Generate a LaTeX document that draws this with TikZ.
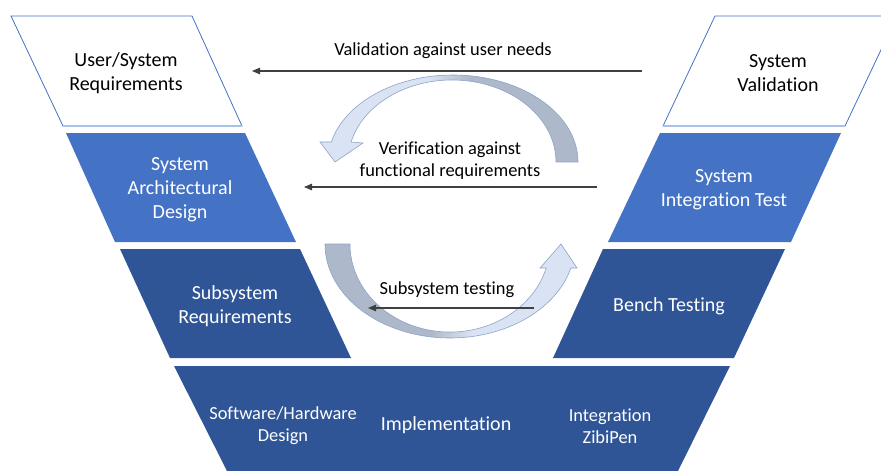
\documentclass[tikz,border=0pt]{standalone}
\usepackage{fontspec}
\setmainfont{Carlito}[Ligatures={NoCommon}]
\usetikzlibrary{arrows.meta}

\definecolor{vblue}{HTML}{4472C4}
\definecolor{vdark}{HTML}{2F5597}
\definecolor{vlight}{HTML}{DAE3F3}
\definecolor{vgray}{HTML}{ADB9CA}
\definecolor{vline}{HTML}{404040}
\definecolor{vedge}{HTML}{8EA4C8}
\definecolor{vrim}{HTML}{A9C0E8}

% light-to-gray and gray-to-light fills for the two loop arrows
\pgfdeclarehorizontalshading{loopLG}{100bp}{color(0bp)=(vlight); color(46bp)=(vlight); color(54bp)=(vgray); color(100bp)=(vgray)}
\pgfdeclarehorizontalshading{loopGL}{100bp}{color(0bp)=(vgray); color(46bp)=(vgray); color(54bp)=(vlight); color(100bp)=(vlight)}

\tikzset{
  whitebox/.style={fill=white, draw=vblue, line width=0.8pt},
  midbox/.style={fill=vblue},
  darkbox/.style={fill=vdark},
  boxtext/.style={align=center, font=\fontsize{20}{24}\selectfont, inner sep=0pt},
  smallbox/.style={font=\fontsize{18.4}{22}\selectfont},
  lighttext/.style={boxtext, text=white},
  darktext/.style={boxtext, text=black},
  flowtext/.style={align=center, font=\fontsize{18.4}{22}\selectfont, inner sep=0pt, text=black},
  flowarrow/.style={draw=vline, line width=1.1pt, -{Triangle[length=8pt,width=6.5pt]}},
  looparrow/.style={draw=vedge, line width=0.6pt}
}

\begin{document}
\begin{tikzpicture}[x=1pt,y=-1pt]
\useasboundingbox (0,0) rectangle (881,471);
\clip (0,0) rectangle (881,471);

% left branch of the V
\path[whitebox] (11,16) -- (192,16) -- (242,126) -- (63,126) -- cycle;
\draw[vrim, line width=1.6pt] (63,126) -- (242,126);
\path[midbox]  (66,133) -- (245,133) -- (296,242) -- (115,242) -- cycle;
\path[darkbox] (120,249) -- (300,249) -- (351,358) -- (170,358) -- cycle;

% right branch of the V
\path[whitebox] (715,16) -- (897,16) -- (845,126) -- (663,126) -- cycle;
\draw[vrim, line width=1.6pt] (663,126) -- (845,126);
\path[midbox]  (660,133) -- (841,133) -- (791,242) -- (608,242) -- cycle;
\path[darkbox] (603,249) -- (785,249) -- (734,358) -- (553,358) -- cycle;

% base of the V
\path[darkbox] (174,366) -- (730,366) -- (678,471) -- (227,471) -- cycle;

% stage labels
\node[darktext]  (usr)   at (126,73.5)  {User/System\\Requirements};
\node[lighttext] (sad)   at (180,189.5) {System\\Architectural\\Design};
\node[lighttext] (ssr)   at (235,306.5) {Subsystem\\Requirements};
\node[lighttext, smallbox] (swd)   at (283,426) {Software/Hardware\\Design};
\node[lighttext] (impl)  at (446,425.5) {Implementation};
\node[lighttext, smallbox] (integ) at (610,426) {Integration\\ZibiPen};
\node[lighttext] (bench) at (669,306.5) {Bench Testing};
\node[lighttext] (sit)   at (724,189.5) {System\\Integration Test};
\node[darktext]  (sval)  at (778,73.5)  {System\\Validation};

% upper loop arrow: tail on the right, head on the left
\path[looparrow, shading=loopLG]
  (578,162) arc[start angle=0, end angle=-166.7, x radius=125, y radius=87]
  -- (320,142) -- (335,162) -- (363,143) -- (351.1,142)
  arc[start angle=-165.9, end angle=0, x radius=104, y radius=82]
  -- cycle;

% lower loop arrow: tail on the left, head on the right
\path[looparrow, shading=loopGL]
  (325,244) arc[start angle=180, end angle=14.8, x radius=125, y radius=94]
  -- (577,268) -- (561,244) -- (540,268) -- (546.2,268)
  arc[start angle=15.8, end angle=180, x radius=100, y radius=88]
  -- cycle;

% feedback arrows with their captions
\coordinate (valS) at (642,71);
\coordinate (valE) at (252,71);
\coordinate (verS) at (597,187);
\coordinate (verE) at (304,187);
\coordinate (subS) at (534,308);
\coordinate (subE) at (368,308);

\draw[flowarrow] (valS) -- (valE);
\draw[flowarrow] (verS) -- (verE);
\draw[flowarrow] (subS) -- (subE);

\node[flowtext] (valtxt) at (443,50.5)  {Validation against user needs};
\node[flowtext] (vertxt) at (450,160.5) {Verification against\\functional requirements};
\node[flowtext] (subtxt) at (447,289.5) {Subsystem testing};
\end{tikzpicture}
\end{document}
